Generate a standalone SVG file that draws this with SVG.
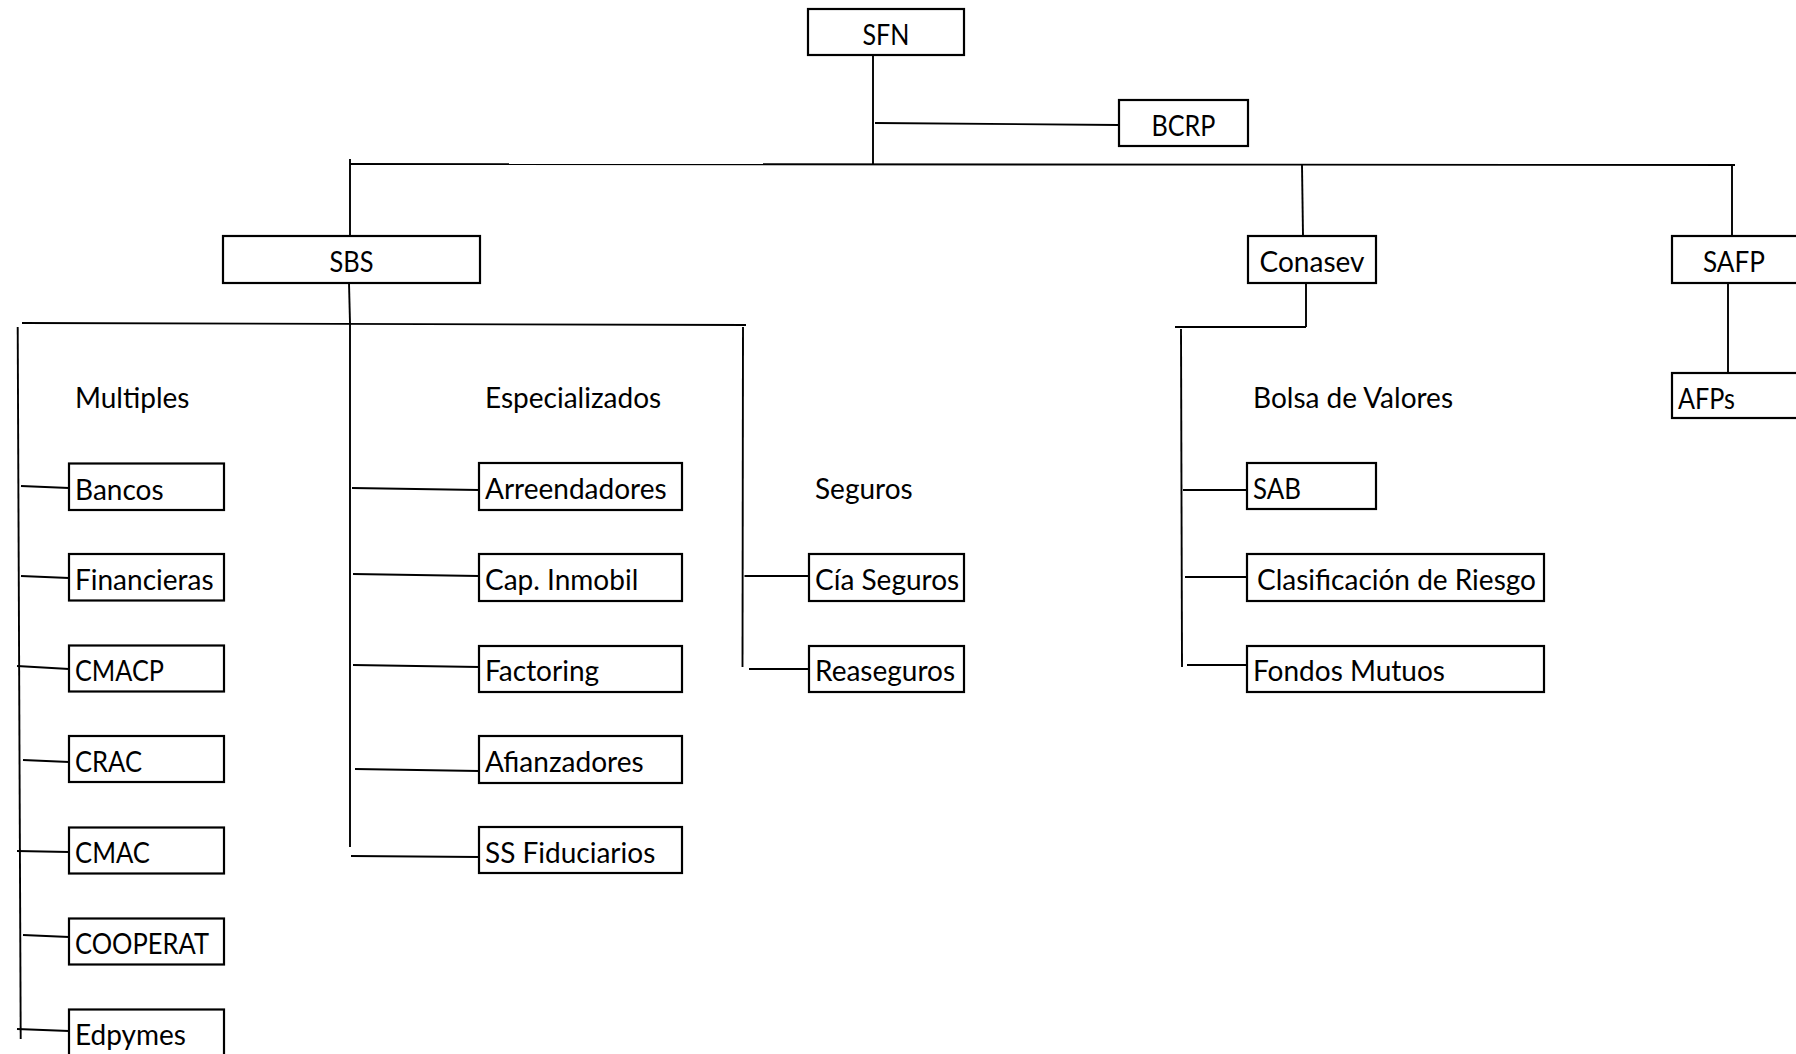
<svg xmlns="http://www.w3.org/2000/svg" width="1796" height="1054" viewBox="0 0 1796 1054">
<style>
.box{fill:#fff;stroke:#000;stroke-width:2.2}
.t{font-family:Lato,"Open Sans","Liberation Sans",sans-serif;font-size:28px;fill:#000}
.c{text-anchor:middle}
.ln{stroke:#000;stroke-width:1.9;fill:none}
</style>
<rect width="1796" height="1054" fill="#fff"/>
<g id="connectors">
<line class="ln" x1="873" y1="55" x2="873" y2="164"/>
<line class="ln" x1="875" y1="123" x2="1119" y2="125"/>
<line class="ln" x1="350" y1="164" x2="1735" y2="165"/>
<line class="ln" x1="350" y1="159" x2="350" y2="236"/>
<line class="ln" x1="1302" y1="165" x2="1303" y2="236"/>
<line class="ln" x1="1732" y1="165" x2="1732" y2="236"/>
<line class="ln" x1="349" y1="283" x2="350" y2="323"/>
<line class="ln" x1="22" y1="323" x2="746" y2="325"/>
<line class="ln" x1="17.7" y1="327" x2="20.7" y2="1039"/>
<line class="ln" x1="350" y1="323" x2="350" y2="847"/>
<line class="ln" x1="743" y1="327" x2="742.5" y2="667"/>
<line class="ln" x1="21" y1="486" x2="69" y2="488"/>
<line class="ln" x1="21" y1="576" x2="69" y2="578"/>
<line class="ln" x1="17" y1="666" x2="69" y2="669"/>
<line class="ln" x1="23" y1="760" x2="69" y2="762"/>
<line class="ln" x1="17" y1="851" x2="69" y2="852"/>
<line class="ln" x1="23" y1="935" x2="69" y2="937"/>
<line class="ln" x1="17" y1="1029" x2="69" y2="1031"/>
<line class="ln" x1="352" y1="488" x2="479" y2="490"/>
<line class="ln" x1="353" y1="574" x2="479" y2="576"/>
<line class="ln" x1="353" y1="665" x2="479" y2="667"/>
<line class="ln" x1="355" y1="769" x2="479" y2="771"/>
<line class="ln" x1="351" y1="856" x2="479" y2="857"/>
<line class="ln" x1="744.5" y1="576" x2="809" y2="576"/>
<line class="ln" x1="749" y1="669" x2="809" y2="669"/>
<line class="ln" x1="1306" y1="283" x2="1306" y2="327"/>
<line class="ln" x1="1175" y1="327" x2="1306" y2="327"/>
<line class="ln" x1="1181" y1="329" x2="1182" y2="667"/>
<line class="ln" x1="1183" y1="490" x2="1247" y2="490"/>
<line class="ln" x1="1185" y1="577" x2="1247" y2="577"/>
<line class="ln" x1="1187" y1="665" x2="1247" y2="665"/>
<line class="ln" x1="1728" y1="283" x2="1728" y2="377"/>
</g>
<g id="sfn"><rect class="box" x="808" y="9" width="156" height="46"/><text class="t c" x="886" y="45" textLength="47" lengthAdjust="spacingAndGlyphs">SFN</text></g>
<g id="bcrp"><rect class="box" x="1119" y="100" width="129" height="46"/><text class="t c" x="1183.5" y="136" textLength="64" lengthAdjust="spacingAndGlyphs">BCRP</text></g>
<g id="sbs"><rect class="box" x="223" y="236" width="257" height="47"/><text class="t c" x="351.5" y="272" textLength="44" lengthAdjust="spacingAndGlyphs">SBS</text></g>
<g id="conasev"><rect class="box" x="1248" y="236" width="128" height="47"/><text class="t c" x="1312" y="272">Conasev</text></g>
<g id="safp"><rect class="box" x="1672" y="236" width="140" height="47"/><text class="t c" x="1734" y="272" textLength="62" lengthAdjust="spacingAndGlyphs">SAFP</text></g>
<g id="afps"><rect class="box" x="1672" y="373" width="140" height="45"/><text class="t" x="1678" y="409" textLength="57" lengthAdjust="spacingAndGlyphs">AFPs</text></g>
<g id="lbl-multiples"><text class="t" x="75" y="408">Multiples</text></g>
<g id="lbl-especializados"><text class="t" x="485" y="408">Especializados</text></g>
<g id="lbl-seguros"><text class="t" x="815" y="499">Seguros</text></g>
<g id="lbl-bolsa"><text class="t" x="1253" y="408">Bolsa de Valores</text></g>
<g id="bancos"><rect class="box" x="69" y="463.5" width="155" height="46.5"/><text class="t" x="75" y="500">Bancos</text></g>
<g id="financieras"><rect class="box" x="69" y="554" width="155" height="46.5"/><text class="t" x="75" y="590">Financieras</text></g>
<g id="cmacp"><rect class="box" x="69" y="645.5" width="155" height="46"/><text class="t" x="75" y="681" textLength="89" lengthAdjust="spacingAndGlyphs">CMACP</text></g>
<g id="crac"><rect class="box" x="69" y="736" width="155" height="46"/><text class="t" x="75" y="772" textLength="67" lengthAdjust="spacingAndGlyphs">CRAC</text></g>
<g id="cmac"><rect class="box" x="69" y="827.5" width="155" height="46"/><text class="t" x="75" y="863" textLength="75" lengthAdjust="spacingAndGlyphs">CMAC</text></g>
<g id="cooperat"><rect class="box" x="69" y="918.5" width="155" height="46"/><text class="t" x="75" y="954" textLength="134" lengthAdjust="spacingAndGlyphs">COOPERAT</text></g>
<g id="edpymes"><rect class="box" x="69" y="1009.5" width="155" height="46"/><text class="t" x="75" y="1045">Edpymes</text></g>
<g id="arreendadores"><rect class="box" x="479" y="463" width="203" height="47"/><text class="t" x="485" y="499">Arreendadores</text></g>
<g id="capinmobil"><rect class="box" x="479" y="554" width="203" height="47"/><text class="t" x="485" y="590">Cap. Inmobil</text></g>
<g id="factoring"><rect class="box" x="479" y="646" width="203" height="46"/><text class="t" x="485" y="681">Factoring</text></g>
<g id="afianzadores"><rect class="box" x="479" y="736" width="203" height="47"/><text class="t" x="485" y="772">Afianzadores</text></g>
<g id="ssfiduciarios"><rect class="box" x="479" y="827" width="203" height="46"/><text class="t" x="485" y="863">SS Fiduciarios</text></g>
<g id="ciaseguros"><rect class="box" x="809" y="554" width="155" height="47"/><text class="t" x="815" y="590">Cía Seguros</text></g>
<g id="reaseguros"><rect class="box" x="809" y="646" width="155" height="46"/><text class="t" x="815" y="681">Reaseguros</text></g>
<g id="sab"><rect class="box" x="1247" y="463" width="129" height="46"/><text class="t" x="1253" y="499" textLength="48" lengthAdjust="spacingAndGlyphs">SAB</text></g>
<g id="clasificacion"><rect class="box" x="1247" y="554" width="297" height="47"/><text class="t" x="1257" y="590">Clasificación de Riesgo</text></g>
<g id="fondosmutuos"><rect class="box" x="1247" y="646" width="297" height="46"/><text class="t" x="1253" y="681">Fondos Mutuos</text></g>
</svg>
